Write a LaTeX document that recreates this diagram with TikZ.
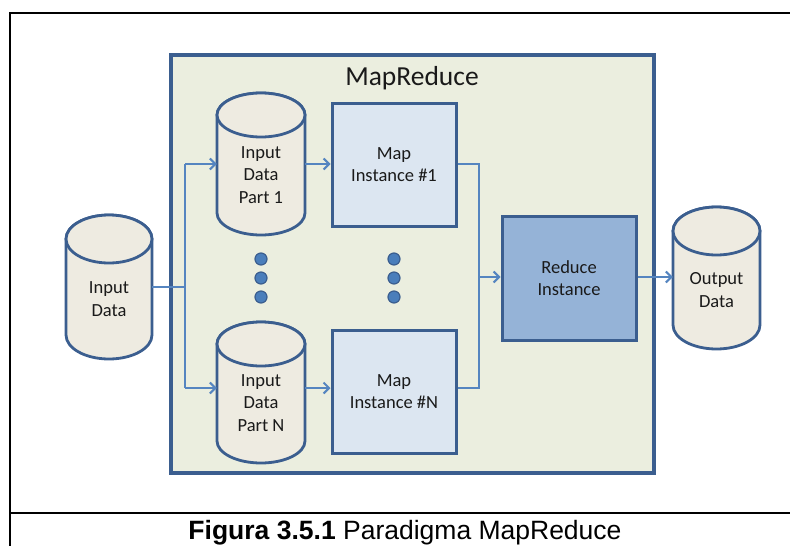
\documentclass[tikz,border=0pt]{standalone}
\usepackage{fontspec}
\setmainfont{Carlito}
\newfontfamily\capfont{Liberation Sans}
\usetikzlibrary{arrows.meta}
\definecolor{bordblue}{HTML}{3B5E8F}
\definecolor{mrfill}{HTML}{EBEEDF}
\definecolor{cylfill}{HTML}{EEEBE1}
\definecolor{mapfill}{HTML}{DCE6F1}
\definecolor{redfill}{HTML}{95B3D7}
\definecolor{connblue}{HTML}{5585C0}
\definecolor{dotblue}{HTML}{4A7EBB}
\definecolor{txt}{HTML}{1A1A1A}
\newcommand{\dbcyl}[7]{% name, cx, top, bottom, rx, ry, text y
  \path[cylbody] (#2-#5,#3+#6) -- (#2-#5,#4-#6)
     arc[start angle=180,end angle=360,x radius=#5pt,y radius=#6pt]
     -- (#2+#5,#3+#6)
     arc[start angle=0,end angle=180,x radius=#5pt,y radius=#6pt] -- cycle;
  \path[cylbody] (#2,#3+#6) ellipse [x radius=#5pt,y radius=#6pt];
  \node[inner sep=0pt,minimum width=2*#5pt,minimum height=#4-#3 pt] (#1) at (#2,{(#3+#4)/2}) {};
}
\tikzset{
  cylbody/.style={draw=bordblue,fill=cylfill,line width=2.8pt},
  lbl/.style={align=center,text=txt,font=\fontsize{18.5}{22.5}\selectfont,inner sep=0pt},
  mapbox/.style={draw=bordblue,fill=mapfill,line width=3pt,inner sep=0pt},
  redbox/.style={draw=bordblue,fill=redfill,line width=3pt,inner sep=0pt},
  conn/.style={draw=connblue,line width=2pt},
  arr/.style={conn,-{Straight Barb[length=5.5pt,width=11pt,line width=2pt]}},
  vdot/.style={circle,draw=bordblue,fill=dotblue,line width=1.2pt,minimum size=12pt,inner sep=0pt},
}
\begin{document}
\begin{tikzpicture}[x=1pt,y=-1pt]
\useasboundingbox (0,0) rectangle (790,546);
% outer frame
\draw[line width=2.4pt] (790,13) -- (10,13) -- (10,546);
\draw[line width=2.4pt] (10,513) -- (790,513);
\node[anchor=base,inner sep=0pt,font=\capfont\fontsize{26.5}{30}\selectfont] (cap) at (405,539)
  {\textbf{Figura 3.5.1} Paradigma MapReduce};
% MapReduce container
\draw[draw=bordblue,fill=mrfill,line width=3.2pt] (171,55) rectangle (654,473);
\node[font=\fontsize{27.5}{30}\selectfont,text=txt,inner sep=0pt] (title) at (412,78) {MapReduce};
% cylinders
\dbcyl{ind}{109}{215}{359}{43}{24}{}
\node[lbl] (indt) at (109,299) {Input\\Data};
\dbcyl{p1}{261}{93}{235}{44}{22}{}
\node[lbl] (p1t) at (261,175) {Input\\Data\\Part 1};
\dbcyl{pn}{261}{322}{463}{44}{22}{}
\node[lbl] (pnt) at (261,403) {Input\\Data\\Part N};
\dbcyl{out}{716.5}{207}{349}{43.5}{24}{}
\node[lbl] (outt) at (716.5,290) {Output\\Data};
% map boxes
\node[mapbox,minimum width=124pt,minimum height=123pt] (m1) at (394,164.5) {};
\node[lbl] (m1t) at (394,164.5) {Map\\Instance \#1};
\node[mapbox,minimum width=124pt,minimum height=123pt] (mn) at (394,391.5) {};
\node[lbl] (mnt) at (394,391.5) {Map\\Instance \#N};
\node[redbox,minimum width=134pt,minimum height=124pt] (red) at (569,278) {};
\node[lbl] (redt) at (569,278) {Reduce\\Instance};
% dots
\node[vdot] (d1) at (261,259) {};
\node[vdot] (d2) at (261,278) {};
\node[vdot] (d3) at (261,297) {};
\node[vdot] (d4) at (394,259) {};
\node[vdot] (d5) at (394,278) {};
\node[vdot] (d6) at (394,297) {};
% connectors
\coordinate (jl) at (185,287);
\coordinate (jl1) at (185,164);
\coordinate (jln) at (185,388);
\coordinate (jr) at (479,277);
\draw[conn] (ind.east |- jl) -- (jl);
\draw[conn] (jl1) -- (jln);
\draw[arr] (jl1) -- (p1.west |- jl1);
\draw[arr] (jln) -- (pn.west |- jln);
\draw[arr] (p1.east |- jl1) -- (m1.west |- jl1);
\draw[arr] (pn.east |- jln) -- (mn.west |- jln);
\draw[conn] (m1.east |- jl1) -| (jr) |- (mn.east |- jln);
\draw[arr] (jr) -- (red.west |- jr);
\draw[arr] (red.east |- jr) -- (out.west |- jr);
\end{tikzpicture}
\end{document}
